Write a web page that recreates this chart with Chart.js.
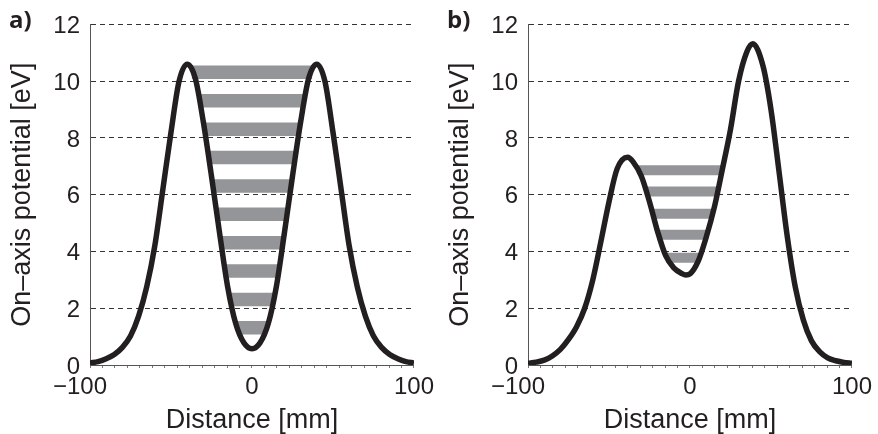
<!DOCTYPE html>
<html>
<head>
<meta charset="utf-8">
<script src="https://cdn.jsdelivr.net/npm/chart.js@4.4.1/dist/chart.umd.min.js"></script>
<style>
  html, body { margin: 0; padding: 0; background: #fff; }
  #wrap { position: relative; width: 878px; height: 434px; overflow: hidden; }
  .panel { position: absolute; top: 0; width: 439px; height: 434px; }
  .tag { position: absolute; top: 7px; font: bold 24px 'Open Sans', sans-serif; line-height: 1; color: #231f20; }
</style>
</head>
<body>
<div id="wrap">
  <div class="panel" style="left:0"><canvas id="chartA" width="439" height="434"></canvas></div>
  <div class="panel" style="left:438px"><canvas id="chartB" width="439" height="434"></canvas></div>
  <div class="tag" style="left:9px">a)</div>
  <div class="tag" style="left:447px">b)</div>
</div>
<script>
// panel a: symmetric double well
const distA = [-100, -95, -90, -85, -80, -75, -70, -65, -60, -55, -50, -45, -40, -35, -30, -25, -20, -15, -10, -5,
               0, 5, 10, 15, 20, 25, 30, 35, 40, 45, 50, 55, 60, 65, 70, 75, 80, 85, 90, 95, 100];
const potA = [0.07, 0.12, 0.22, 0.37, 0.62, 1.02, 1.72, 2.75, 4.2, 6.2, 8.2, 10.0, 10.6, 10.1, 8.55, 6.65, 4.65, 2.75, 1.45, 0.78,
              0.57, 0.78, 1.45, 2.75, 4.65, 6.65, 8.55, 10.1, 10.6, 10.0, 8.2, 6.2, 4.2, 2.75, 1.72, 1.02, 0.62, 0.37, 0.22, 0.12, 0.07];
const levelsA = [1.31, 2.31, 3.31, 4.31, 5.31, 6.31, 7.31, 8.31, 9.31, 10.31];

// panel b: asymmetric well
const distB = [-100, -95, -90, -85, -80, -75, -70, -65, -60, -55, -50, -45, -38.5, -35, -30, -25, -20, -15, -10, -5, -2.5,
               0, 5, 10, 15, 20, 25, 30, 35, 38.7, 45, 50, 55, 60, 65, 70, 75, 80, 85, 90, 95, 100];
const potB = [0.06, 0.1, 0.17, 0.32, 0.55, 0.9, 1.35, 2.0, 3.0, 4.35, 5.75, 6.91, 7.32, 7.15, 6.65, 5.75, 4.7, 3.85, 3.42, 3.22, 3.17,
              3.21, 3.65, 4.5, 5.55, 6.9, 8.3, 10.0, 11.02, 11.32, 10.55, 9.0, 6.8, 4.55, 2.75, 1.58, 0.85, 0.47, 0.25, 0.15, 0.09, 0.06];
const levelsB = [3.78, 4.59, 5.33, 6.11, 6.86];

const xTickValues = [-100, 0, 100];
const xTickLabels = ['\u2212100\u00a0\u00a0\u00a0', '0', '100'];

const INK = '#231f20';
const GREY = '#939598';
const FONT = "'Liberation Sans', Arial, sans-serif";

// x where the curve reaches `level` on both walls of the well
function wellEdges(xs, ys, level) {
    let m = 1;
    while (!(ys[m] <= ys[m - 1] && ys[m] <= ys[m + 1])) m++;
    let i = m;
    while (ys[i - 1] < level) i--;
    const xl = xs[i - 1] + (level - ys[i - 1]) * (xs[i] - xs[i - 1]) / (ys[i] - ys[i - 1]);
    let j = m;
    while (ys[j + 1] < level) j++;
    const xr = xs[j] + (level - ys[j]) * (xs[j + 1] - xs[j]) / (ys[j + 1] - ys[j]);
    return [xl, xr];
}

function stripeSets(xs, ys, levels, width) {
    return levels.map(function(level) {
        const edges = wellEdges(xs, ys, level);
        return {
            data: [{x: edges[0], y: level}, {x: edges[1], y: level}],
            borderColor: GREY,
            borderWidth: width,
            borderCapStyle: 'butt',
            pointRadius: 0,
            tension: 0
        };
    });
}

function makeChart(id, xs, ys, levels, stripeWidth) {
    const curve = {
        data: xs.map((x, i) => ({x: x, y: ys[i]})),
        borderColor: INK,
        borderWidth: 5.5,
        cubicInterpolationMode: 'monotone',
        pointRadius: 0
    };

    return new Chart(document.getElementById(id), {
        type: 'line',
        data: { datasets: [curve].concat(stripeSets(xs, ys, levels, stripeWidth)) },
        options: {
            responsive: false,
            animation: false,
            devicePixelRatio: 1,
            layout: { padding: { top: 21, right: 22.5, bottom: 0, left: 0 } },
            plugins: { legend: { display: false }, tooltip: { enabled: false } },
            scales: {
                x: {
                    type: 'linear',
                    min: -100,
                    max: 100,
                    afterBuildTicks: function(scale) {
                        scale.ticks = Array.from({length: 27}, (_, k) => ({value: -100 + k * 200 / 26}));
                    },
                    afterFit: function(scale) { scale.height = 69; },
                    ticks: {
                        autoSkip: false,
                        maxRotation: 0,
                        padding: 5,
                        color: INK,
                        font: { family: FONT, size: 24 },
                        callback: function(v) {
                            const i = xTickValues.findIndex(t => Math.abs(t - v) < 1e-6);
                            return i < 0 ? '' : xTickLabels[i];
                        }
                    },
                    grid: { drawOnChartArea: false, drawTicks: true, tickLength: 3, color: '#777' },
                    border: { color: '#555', width: 1 },
                    title: {
                        display: true,
                        text: 'Distance [mm]',
                        color: INK,
                        font: { family: FONT, size: 27 },
                        padding: { top: 0, bottom: -3 }
                    }
                },
                y: {
                    min: 0,
                    max: 12,
                    afterFit: function(scale) { scale.width = 90; },
                    ticks: {
                        stepSize: 2,
                        padding: 10,
                        labelOffset: 2,
                        color: INK,
                        font: { family: FONT, size: 24 }
                    },
                    grid: { drawTicks: false, color: '#333', lineWidth: 1 },
                    border: { dash: [5, 4], color: '#555', width: 1 },
                    title: {
                        display: true,
                        text: 'On\u2013axis potential [eV]',
                        color: INK,
                        font: { family: FONT, size: 27 },
                        padding: { top: 6, bottom: 0 }
                    }
                }
            }
        }
    });
}

makeChart('chartA', distA, potA, levelsA, 13.5);
makeChart('chartB', distB, potB, levelsB, 10);
</script>
</body>
</html>
